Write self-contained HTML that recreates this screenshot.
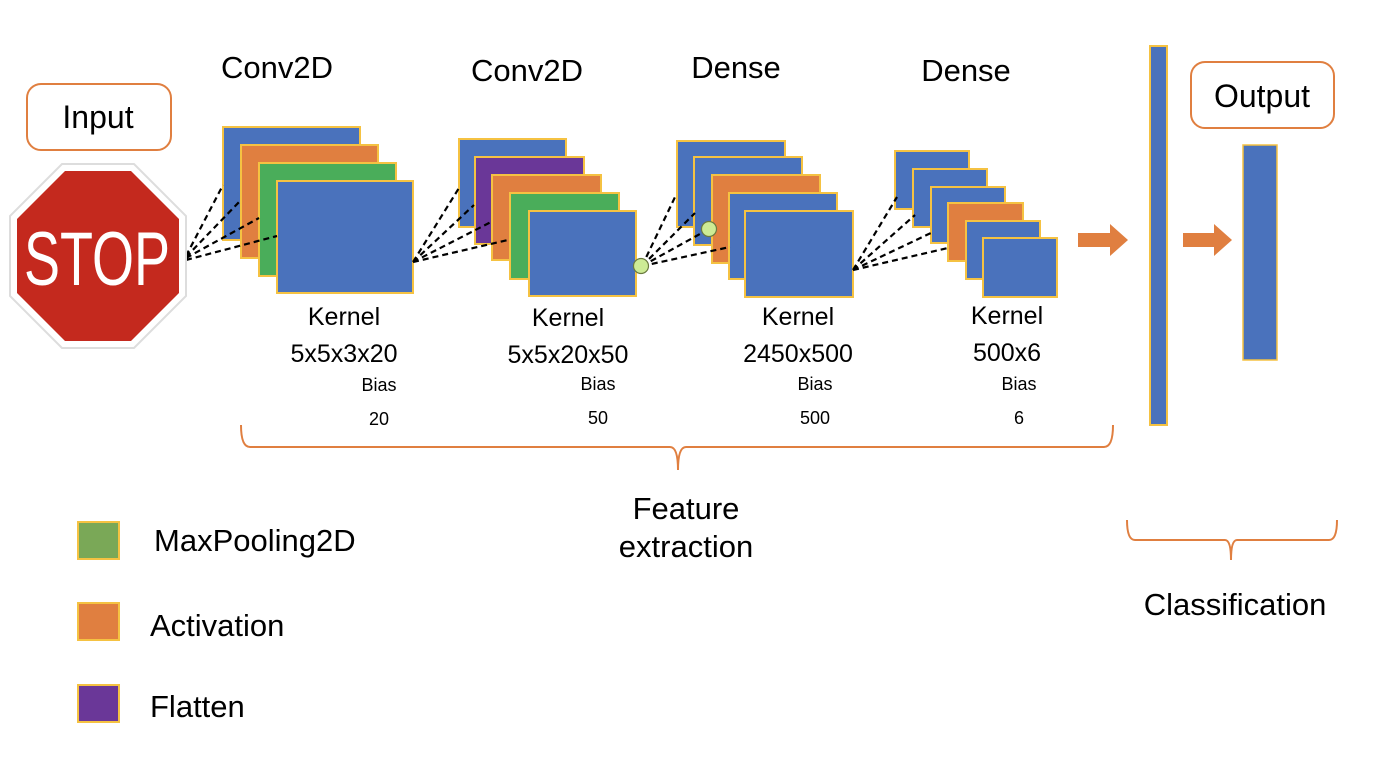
<!DOCTYPE html>
<html><head><meta charset="utf-8"><style>
html,body{margin:0;padding:0;background:#fff;}
svg{display:block;}
text{font-family:"Liberation Sans",sans-serif;fill:#000;}
</style></head><body>
<svg width="1388" height="780" viewBox="0 0 1388 780" xmlns="http://www.w3.org/2000/svg">
<g stroke="#f5c242" stroke-width="2">
<rect x="223" y="127" width="137" height="113" fill="#4a72bc"/>
<rect x="241" y="145" width="137" height="113" fill="#e07f40"/>
<rect x="259" y="163" width="137" height="113" fill="#4aad5a"/>
<rect x="277" y="181" width="136" height="112" fill="#4a72bc"/>
<rect x="459" y="139" width="107" height="88" fill="#4a72bc"/>
<rect x="475" y="157" width="109" height="87" fill="#6a3798"/>
<rect x="492" y="175" width="109" height="85" fill="#e07f40"/>
<rect x="510" y="193" width="109" height="86" fill="#4aad5a"/>
<rect x="529" y="211" width="107" height="85" fill="#4a72bc"/>
<rect x="677" y="141" width="108" height="86" fill="#4a72bc"/>
<rect x="694" y="157" width="108" height="88" fill="#4a72bc"/>
<rect x="712" y="175" width="108" height="88" fill="#e07f40"/>
<rect x="729" y="193" width="108" height="86" fill="#4a72bc"/>
<rect x="745" y="211" width="108" height="86" fill="#4a72bc"/>
<rect x="895" y="151" width="74" height="58" fill="#4a72bc"/>
<rect x="913" y="169" width="74" height="58" fill="#4a72bc"/>
<rect x="931" y="187" width="74" height="56" fill="#4a72bc"/>
<rect x="948" y="203" width="75" height="58" fill="#e07f40"/>
<rect x="966" y="221" width="74" height="58" fill="#4a72bc"/>
<rect x="983" y="238" width="74" height="59" fill="#4a72bc"/>
</g>
<g stroke="#000" stroke-width="2.2" stroke-dasharray="6,4" fill="none">
<path d="M186 256 L223 185 M186 257 L241 200 M186 258 L259 218 M186 260 L277 236"/>
<path d="M413 262 L459 188 M413 262 L474 205 M413 262 L491 222 M413 262 L508 240"/>
<path d="M642 266 L676 195 M642 266 L695 213 M642 266 L709 229 M642 266 L730 247"/>
<path d="M853 270 L897 197 M853 270 L915 215 M853 270 L933 232 M853 270 L948 248"/>
</g>
<circle cx="641" cy="266" r="7.5" fill="#cdeb95" stroke="#6a7a40" stroke-width="1.2"/>
<circle cx="709" cy="229" r="7.5" fill="#cdeb95" stroke="#6a7a40" stroke-width="1.2"/>
<polygon points="62,164 134,164 186,216 186,296 134,348 62,348 10,296 10,216" fill="#fff" stroke="#ddd" stroke-width="2"/>
<polygon points="65,171 131,171 179,219 179,293 131,341 65,341 17,293 17,219" fill="#c4291e"/>
<text x="97" y="285" text-anchor="middle" font-size="76" style="fill:#fff" textLength="146" lengthAdjust="spacingAndGlyphs">STOP</text>
<rect x="27" y="84" width="144" height="66" rx="14" fill="#fff" stroke="#e07f40" stroke-width="2"/>
<text x="98" y="128" text-anchor="middle" font-size="32">Input</text>
<rect x="1191" y="62" width="143" height="66" rx="14" fill="#fff" stroke="#e07f40" stroke-width="2"/>
<text x="1262" y="107" text-anchor="middle" font-size="32">Output</text>
<text x="277" y="78" text-anchor="middle" font-size="31">Conv2D</text>
<text x="527" y="81" text-anchor="middle" font-size="31">Conv2D</text>
<text x="736" y="78" text-anchor="middle" font-size="31">Dense</text>
<text x="966" y="81" text-anchor="middle" font-size="31">Dense</text>
<g font-size="25" text-anchor="middle">
<text x="344" y="325">Kernel</text><text x="344" y="362">5x5x3x20</text>
<text x="568" y="326">Kernel</text><text x="568" y="363">5x5x20x50</text>
<text x="798" y="325">Kernel</text><text x="798" y="362">2450x500</text>
<text x="1007" y="324">Kernel</text><text x="1007" y="361">500x6</text>
</g>
<g font-size="18" text-anchor="middle">
<text x="379" y="391">Bias</text><text x="379" y="425">20</text>
<text x="598" y="390">Bias</text><text x="598" y="424">50</text>
<text x="815" y="390">Bias</text><text x="815" y="424">500</text>
<text x="1019" y="390">Bias</text><text x="1019" y="424">6</text>
</g>
<path d="M241 425 Q241 447 250 447 L670 447 Q678 447 678 470 Q678 447 686 447 L1104 447 Q1113 447 1113 425" fill="none" stroke="#e07f40" stroke-width="2"/>
<path d="M1127 520 Q1127 540 1135 540 L1225 540 Q1231 540 1231 560 Q1231 540 1237 540 L1329 540 Q1337 540 1337 520" fill="none" stroke="#e07f40" stroke-width="2"/>
<rect x="1150" y="46" width="17" height="379" fill="#4a72bc" stroke="#f5c242" stroke-width="2"/>
<rect x="1243" y="145" width="34" height="215" fill="#4a72bc" stroke="#f5c242" stroke-width="1.5"/>
<polygon points="1078,233 1110,233 1110,224 1128,240 1110,256 1110,247 1078,247" fill="#e07f40"/>
<polygon points="1183,233 1214,233 1214,224 1232,240 1214,256 1214,247 1183,247" fill="#e07f40"/>
<text x="686" y="519" text-anchor="middle" font-size="31">Feature</text>
<text x="686" y="557" text-anchor="middle" font-size="31">extraction</text>
<text x="1235" y="615" text-anchor="middle" font-size="31">Classification</text>
<rect x="78" y="522" width="41" height="37" fill="#7aa857" stroke="#f5c242" stroke-width="2"/>
<rect x="78" y="603" width="41" height="37" fill="#e07f40" stroke="#f5c242" stroke-width="2"/>
<rect x="78" y="685" width="41" height="37" fill="#6a3798" stroke="#f5c242" stroke-width="2"/>
<text x="154" y="551" font-size="31">MaxPooling2D</text>
<text x="150" y="636" font-size="31">Activation</text>
<text x="150" y="717" font-size="31">Flatten</text>
</svg>
</body></html>
